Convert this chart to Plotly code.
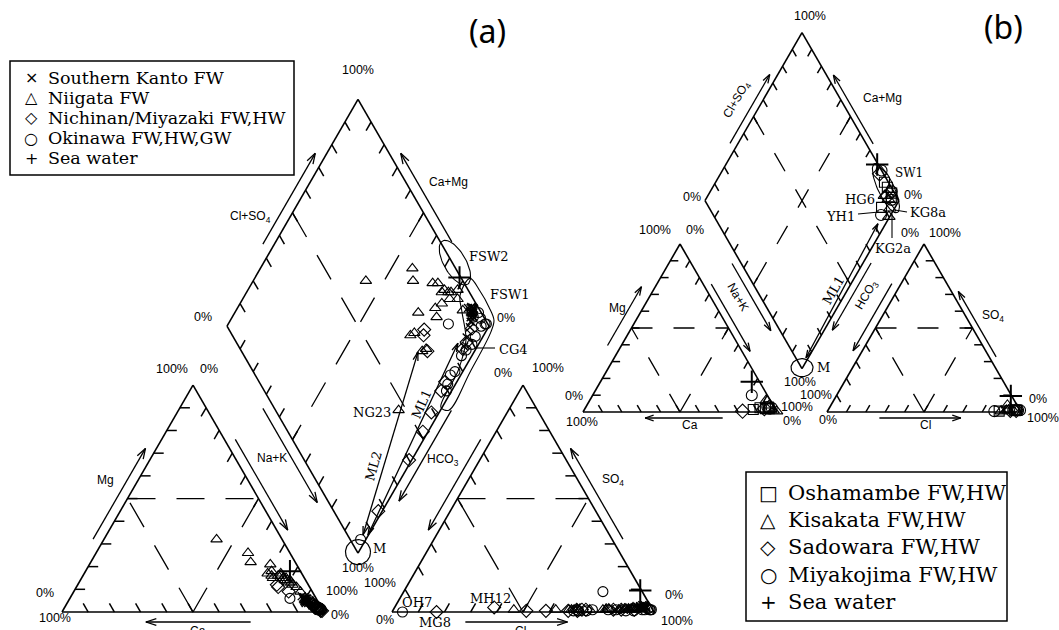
import numpy as np
import plotly.graph_objects as go

# ---------------- sample chemistry (meq %) ----------------
# Panel (a)
KANTO_MG = [5, 6, 4, 5, 6, 4.5, 5.5, 3, 3, 7, 5, 4, 5.5, 4.5, 6.5, 5, 4, 6]
KANTO_NAK = [90, 89, 91, 91, 90, 90.5, 89.5, 94, 95, 88, 92, 93, 90, 91.5, 89, 90.5, 92, 90.5]
KANTO_SO4 = [2, 2, 2, 3, 3, 2, 1.5, 1, 1, 2.5, 2, 1.5, 2.5, 2, 3, 1.5, 2.5, 2]
KANTO_CL = [94, 95, 93, 94, 95, 96, 94.5, 88, 85, 93.5, 92, 91, 95.5, 94, 94.5, 95, 93.5, 96]

NIIGATA_MG = [32, 26, 22, 21, 17, 16, 15, 14, 13, 11, 18, 16, 15, 13, 15, 14, 12, 9, 16, 14, 17, 15]
NIIGATA_NAK = [43, 58, 61, 69, 70, 72, 73, 80, 81, 84, 71, 74.5, 77, 80, 77, 79, 82, 86.5, 75.5, 78, 75, 78]
NIIGATA_SO4 = [1, 1.5, 1, 1, 1, 1, 1, 1, 1, 1, 1.5, 1.5, 1.5, 1.5, 1, 1, 1.5, 1, 1, 1, 1.5, 2]
NIIGATA_CL = [62, 82, 80, 87, 75, 67, 69, 68, 70, 46, 88.5, 88, 90.5, 94.5, 86, 90, 92.5, 92.5, 82.5, 81, 89.5, 91]

NICHINAN_MG = [0.5, 0.5, 1, 1.5, 2, 2, 2.5, 3, 12, 11, 9, 3]
NICHINAN_NAK = [98.5, 99, 98, 97, 96, 95.5, 95, 95, 76, 77, 82, 94]
NICHINAN_SO4 = [0, 2, 0.5, 0.5, 0.5, 0.5, 1, 1, 1, 1, 1, 1]
NICHINAN_CL = [17, 38, 51, 58.5, 67, 70.5, 84, 87, 73.5, 72, 70, 92]

OKINAWA_MG = [1, 1, 1.5, 2, 2, 2.5, 2, 6, 2, 1.5, 3, 4, 5, 1, 1.5, 1]
OKINAWA_NAK = [98, 98, 97, 96, 97, 96, 96.5, 84, 97, 98, 95, 93, 92, 97, 97.5, 98.5]
OKINAWA_SO4 = [0, 0.5, 0.5, 0.5, 1, 1, 1, 9, 1, 1, 1.5, 1, 1, 0.5, 0.5, 1]
OKINAWA_CL = [4, 69, 71, 74, 76, 82, 85, 76, 96, 98, 97, 98, 95, 92, 89, 98.5]

# Panel (b)
OSHAMAMBE_MG = [1.5, 2.5, 2, 2, 3]
OSHAMAMBE_NAK = [87, 90, 95, 93, 94]
OSHAMAMBE_SO4 = [1, 1, 1, 0.5, 1]
OSHAMAMBE_CL = [97, 97, 96, 88.5, 97.5]

KISAKATA_MG = [1, 0.5, 7, 4]
KISAKATA_NAK = [97.5, 99.5, 91, 94]
KISAKATA_SO4 = [1, 0.5, 1, 4]
KISAKATA_CL = [92, 89.5, 93, 91]

SADOWARA_MG = [0.5, 2]
SADOWARA_NAK = [82, 92.5]
SADOWARA_SO4 = [1, 1]
SADOWARA_CL = [97, 94]

MIYAKO_MG = [2, 3, 10, 2.5]
MIYAKO_NAK = [95, 93.5, 82, 96]
MIYAKO_SO4 = [0.5, 1, 1, 1]
MIYAKO_CL = [86, 98, 99, 95.5]

# Sea water (both panels)
SEA_MG, SEA_NAK, SEA_SO4, SEA_CL = [18], [78], [9.5], [90]

# Legend entries: key glyph and name
LEGEND_A = [('×', 'Southern Kanto FW'), ('△', 'Niigata FW'), ('◇', 'Nichinan/Miyazaki FW,HW'),
            ('○', 'Okinawa FW,HW,GW'), ('+', 'Sea water')]
LEGEND_B = [('□', 'Oshamambe FW,HW'), ('△', 'Kisakata FW,HW'), ('◇', 'Sadowara FW,HW'),
            ('○', 'Miyakojima FW,HW'), ('+', 'Sea water')]

# Scale tick positions along every edge (percent)
TICK_PCT = [10, 20, 30, 40, 50, 60, 70, 80, 90]

# Mixing lines and envelopes, diamond coordinates (Ca+Mg %, Cl+SO4 %)
ML1_A = ([0.2, 8.1], [7.8, 84.4])
ML2_A = ([2.1, 21.4], [5.9, 67.2])
ML1_B = ([1.2, 4.0], [5.3, 82.3])
FSW1_C = [17.8, 11.2, 4.2, -0.6, -2.0, -2.9, -3.2, 0.5, 2.0, 5.7, 13.4, 17.9]
FSW1_A = [103.3, 104.3, 104.2, 103.2, 99.4, 82.6, 66.2, 63.8, 78.5, 88.1, 92.8, 95.8]
FSW2_CENTER = (27, 101)
SW1_CENTER = (10.5, 97)

W, H = 1059, 630
R3 = float(np.sqrt(3) / 2)
SANS = "Liberation Sans"
SERIF = "DejaVu Serif"


class Piper:
    """Cation triangle, anion triangle and central diamond laid out on a pixel grid."""

    def __init__(self, x0, y0, side, gap):
        s = side
        self.s, self.x0, self.y0 = s, x0, y0
        P = lambda x, y: np.array([x, y], float)
        v = {}
        v['cBL'], v['cBR'], v['cAP'] = P(x0, y0), P(x0 + s, y0), P(x0 + s / 2, y0 - s * R3)
        self.ax = x0 + s + gap
        ax = self.ax
        v['aBL'], v['aBR'], v['aAP'] = P(ax, y0), P(ax + s, y0), P(ax + s / 2, y0 - s * R3)
        B = P(x0 + s + gap / 2, y0 - gap * R3)
        v['dB'] = B
        v['dR'] = B + P(s / 2, -s * R3)
        v['dT'] = B + P(0, -2 * s * R3)
        v['dL'] = B + P(-s / 2, -s * R3)
        self.v = v
        self.cent = {'c': (v['cBL'] + v['cBR'] + v['cAP']) / 3,
                     'a': (v['aBL'] + v['aBR'] + v['aAP']) / 3,
                     'd': (v['dB'] + v['dT']) / 2}

    def cation(self, mg, nak):
        mg = np.asarray(mg, float) / 100
        nak = np.asarray(nak, float) / 100
        return self.x0 + self.s * (nak + mg / 2), self.y0 - self.s * R3 * mg

    def anion(self, so4, cl):
        so4 = np.asarray(so4, float) / 100
        cl = np.asarray(cl, float) / 100
        return self.ax + self.s * (cl + so4 / 2), self.y0 - self.s * R3 * so4

    def diamond(self, camg, clso4):
        c = np.asarray(camg, float) / 100
        a = np.asarray(clso4, float) / 100
        B = self.v['dB']
        return B[0] + self.s / 2 * (a - c), B[1] - self.s * R3 * (a + c)

    def project(self, mg, nak, so4, cl):
        x1, y1 = self.cation(mg, nak)
        x2, y2 = self.anion(so4, cl)
        x3, y3 = self.diamond(100 - np.asarray(nak, float),
                              np.asarray(so4, float) + np.asarray(cl, float))
        return np.concatenate([x1, x2, x3]), np.concatenate([y1, y2, y3])


PA = Piper(62, 612, 262, 68)
PB = Piper(583, 412, 194, 50)

# edge (from, to) and inward direction of the scale ticks on it
TICK_DIRS = [('cBL', 'cAP', 1.0, 0.0), ('cAP', 'cBR', -0.5, R3), ('cBL', 'cBR', -0.5, -R3),
             ('aBL', 'aAP', 0.5, R3), ('aBR', 'aAP', -1.0, 0.0), ('aBL', 'aBR', 0.5, -R3),
             ('dL', 'dT', 0.5, R3), ('dR', 'dT', -0.5, R3), ('dL', 'dB', 0.5, -R3),
             ('dB', 'dR', -0.5, -R3)]


def frame_segs(p):
    v = p.v
    segs = []
    for loop in (['cBL', 'cBR', 'cAP'], ['aBL', 'aBR', 'aAP'], ['dB', 'dR', 'dT', 'dL']):
        for i in range(len(loop)):
            segs.append((v[loop[i]], v[loop[(i + 1) % len(loop)]]))
    return segs


def tick_segs(p, length):
    out = []
    for ka, kb, dx, dy in TICK_DIRS:
        x1, y1 = p.v[ka]
        x2, y2 = p.v[kb]
        for pct in TICK_PCT:
            f = pct / 100.0
            ex = x1 + f * (x2 - x1)
            ey = y1 + f * (y2 - y1)
            out.append((np.array([ex, ey]), np.array([ex + length * dx, ey + length * dy])))
    return out


def guide_segs(p):
    v = p.v
    m = lambda a, b: (v[a] + v[b]) / 2
    segs = []
    for t in ('c', 'a'):
        BL, BR, AP = t + 'BL', t + 'BR', t + 'AP'
        segs += [(m(BL, AP), m(AP, BR)), (m(BL, BR), m(BL, AP)), (m(BL, BR), m(AP, BR))]
    segs += [(m('dL', 'dT'), m('dB', 'dR')), (m('dR', 'dT'), m('dL', 'dB'))]
    return segs


def arrow_segs(A, B, head, both=False, ang=18):
    A, B = np.asarray(A, float), np.asarray(B, float)
    segs = [(A, B)]
    ends = [(B, A)] + ([(A, B)] if both else [])
    for tip, tail in ends:
        u = (tail - tip) / np.linalg.norm(tail - tip)
        for sg in (1, -1):
            th = np.radians(ang * sg)
            R = np.array([[np.cos(th), -np.sin(th)], [np.sin(th), np.cos(th)]])
            segs.append((tip, tip + head * (R @ u)))
    return segs


def edge_arrow(p, a, b, t0, t1, off, head):
    P, Q = p.v[a], p.v[b]
    d = Q - P
    u = d / np.linalg.norm(d)
    n = np.array([-u[1], u[0]])
    if np.dot(n, (P + Q) / 2 - p.cent[a[0]]) < 0:
        n = -n
    return arrow_segs(P + t0 * d + off * n, P + t1 * d + off * n, head)


def lines_trace(segs, width, dash=None):
    xs, ys = [], []
    for p, q in segs:
        xs += [float(p[0]), float(q[0]), None]
        ys += [float(p[1]), float(q[1]), None]
    return go.Scatter(x=xs, y=ys, mode='lines', hoverinfo='skip', showlegend=False,
                      line=dict(color='black', width=width, dash=dash))


def ellipse(cx, cy, ra, rb, ang_deg, n=80):
    t = np.linspace(0, 2 * np.pi, n)
    a = np.radians(ang_deg)
    return (cx + ra * np.cos(t) * np.cos(a) - rb * np.sin(t) * np.sin(a),
            cy + ra * np.cos(t) * np.sin(a) + rb * np.sin(t) * np.cos(a))


fig = go.Figure()
shapes = []

# ---------- diagram frames and guide lines ----------
for p, dash in ((PA, '28px,21px'), (PB, '21px,21px')):
    fig.add_trace(lines_trace(frame_segs(p), 1.6))
    fig.add_trace(lines_trace(guide_segs(p), 1.3, dash))

# ---------- scale ticks ----------
fig.add_trace(lines_trace(tick_segs(PA, 10) + tick_segs(PB, 8), 1.5))

# ---------- axis arrows ----------
ARROWS_A = [('cBL', 'cAP', .30, .70, 9.5), ('cAP', 'cBR', .26, .66, 9.5), ('dL', 'dB', .34, .755, 10),
            ('cBL', 'cBR', .72, .32, 10), ('dL', 'dT', .34, .74, 10), ('dR', 'dT', .35, .74, 10),
            ('dB', 'dR', .65, .25, 9.5), ('aBL', 'aAP', .74, .34, 9.5), ('aBR', 'aAP', .30, .70, 9.5),
            ('aBL', 'aBR', .28, .67, 10)]
ARROWS_B = [('cBL', 'cAP', .36, .71, 12), ('cAP', 'cBR', .26, .66, 7), ('dL', 'dB', .35, .75, 8),
            ('cBL', 'cBR', .72, .32, 6), ('dL', 'dT', .32, .73, 7), ('dR', 'dT', .32, .73, 6),
            ('dB', 'dR', .65, .25, 7), ('aBL', 'aAP', .74, .34, 8), ('aBR', 'aAP', .31, .70, 6),
            ('aBL', 'aBR', .27, .69, 6)]
arr = []
for spec in ARROWS_A:
    arr += edge_arrow(PA, *spec, head=11)
for spec in ARROWS_B:
    arr += edge_arrow(PB, *spec, head=9)

# mixing lines
for p, ml, head in ((PA, ML1_A, 9), (PA, ML2_A, 9), (PB, ML1_B, 8)):
    x, y = p.diamond(*ml)
    arr += arrow_segs((x[0], y[0]), (x[1], y[1]), head, both=True, ang=16)
fig.add_trace(lines_trace(arr, 1.3))

# leader lines for sample labels
LEADERS = [((475, 348), (495, 348)), ((858, 214), (879, 212)), ((895, 210), (907, 212)),
           ((892, 214), (892, 238))]
fig.add_trace(lines_trace([(np.array(a), np.array(b)) for a, b in LEADERS], 1.1))

# envelopes and M circles
ex, ey = PA.diamond(FSW1_C + FSW1_C[:1], FSW1_A + FSW1_A[:1])
fig.add_trace(go.Scatter(x=ex, y=ey, mode='lines', line=dict(color='black', width=1.1, shape='spline'),
                         hoverinfo='skip', showlegend=False))
for p, cen, ra, rb, ang in ((PA, FSW2_CENTER, 25, 11, 60), (PB, SW1_CENTER, 27, 8, 65)):
    cx, cy = p.diamond(cen[0], cen[1])
    x, y = ellipse(float(cx), float(cy), ra, rb, ang)
    fig.add_trace(go.Scatter(x=x, y=y, mode='lines', line=dict(color='black', width=1.1),
                             hoverinfo='skip', showlegend=False))
for p, ra, rb in ((PA, 12.5, 12.5), (PB, 11, 9)):
    B = p.v['dB']
    x, y = ellipse(B[0], B[1] - 1, ra, rb, 0)
    fig.add_trace(go.Scatter(x=x, y=y, mode='lines', line=dict(color='black', width=1.2),
                             hoverinfo='skip', showlegend=False))

# ---------- samples ----------
GROUPS = [
    (PA, 'Southern Kanto FW', KANTO_MG, KANTO_NAK, KANTO_SO4, KANTO_CL, 'x-thin-open', 8, 1.4),
    (PA, 'Niigata FW', NIIGATA_MG, NIIGATA_NAK, NIIGATA_SO4, NIIGATA_CL, 'triangle-up-open', 10, 1.1),
    (PA, 'Nichinan/Miyazaki FW,HW', NICHINAN_MG, NICHINAN_NAK, NICHINAN_SO4, NICHINAN_CL, 'diamond-open', 10, 1.1),
    (PA, 'Okinawa FW,HW,GW', OKINAWA_MG, OKINAWA_NAK, OKINAWA_SO4, OKINAWA_CL, 'circle-open', 10, 1.1),
    (PA, 'Sea water', SEA_MG, SEA_NAK, SEA_SO4, SEA_CL, 'cross-thin-open', 16, 2),
    (PB, 'Oshamambe FW,HW', OSHAMAMBE_MG, OSHAMAMBE_NAK, OSHAMAMBE_SO4, OSHAMAMBE_CL, 'square-open', 10, 1.1),
    (PB, 'Kisakata FW,HW', KISAKATA_MG, KISAKATA_NAK, KISAKATA_SO4, KISAKATA_CL, 'triangle-up-open', 11, 1.1),
    (PB, 'Sadowara FW,HW', SADOWARA_MG, SADOWARA_NAK, SADOWARA_SO4, SADOWARA_CL, 'diamond-open', 11, 1.1),
    (PB, 'Miyakojima FW,HW', MIYAKO_MG, MIYAKO_NAK, MIYAKO_SO4, MIYAKO_CL, 'circle-open', 11, 1.1),
    (PB, 'Sea water', SEA_MG, SEA_NAK, SEA_SO4, SEA_CL, 'cross-thin-open', 16, 2),
]
for p, name, mg, nak, so4, cl, sym, size, lw in GROUPS:
    x, y = p.project(mg, nak, so4, cl)
    fig.add_trace(go.Scatter(x=x, y=y, mode='markers', name=name, showlegend=False,
                             marker=dict(symbol=sym, size=size, color='black',
                                         line=dict(color='black', width=lw))))

# ---------- text ----------
ann = []


def txt(x, y, t, size=12, family=SANS, xa='center', ya='middle', angle=0):
    ann.append(dict(x=x, y=y, text=t, showarrow=False, xref='x', yref='y', xanchor=xa, yanchor=ya,
                    textangle=angle, font=dict(family=family, size=size, color='black')))


# legends (boxed key glyph + name)
for entries, box, sym_x, txt_x, y0, dy, fs, ss in (
        (LEGEND_A, (10, 61, 294, 175), 31, 46, 77.5, 20.2, 17.5, 16),
        (LEGEND_B, (746, 472, 1007, 621), 768, 786, 493, 27.2, 21, 20)):
    shapes.append(dict(type='rect', xref='x', yref='y', x0=box[0], y0=box[1], x1=box[2], y1=box[3],
                       line=dict(color='black', width=1.5), fillcolor='rgba(0,0,0,0)'))
    for i, (glyph, name) in enumerate(entries):
        txt(sym_x, y0 + i * dy, glyph, ss, "DejaVu Sans")
        txt(txt_x, y0 + i * dy, name, fs, SERIF, xa='left')

# panel titles
txt(487, 30, '(a)', 32, "Noto Sans")
txt(1003, 26, '(b)', 32, "Noto Sans")

# panel (a) scale labels
for x, y, t in [(358, 70, '100%'), (203, 317, '0%'), (506, 318, '0%'), (358, 568, '100%'),
                (172, 369, '100%'), (209, 369, '0%'), (45, 593, '0%'), (55, 618, '100%'),
                (342, 591, '100%'), (340, 615, '0%'), (503, 373, '0%'), (548, 368, '100%'),
                (380, 583, '100%'), (385, 620, '0%'), (674, 595, '0%'), (677, 621, '100%')]:
    txt(x, y, t, 12.5)
txt(105, 480, 'Mg', 12)
txt(272, 458, 'Na+K', 12)
txt(198, 622, 'Ca', 12, ya='top')
txt(250, 217, 'Cl+SO<sub>4</sub>', 12)
txt(448, 182, 'Ca+Mg', 12)
txt(443, 460, 'HCO<sub>3</sub>', 12)
txt(613, 480, 'SO<sub>4</sub>', 12)
txt(520, 622, 'Cl', 12, ya='top')

# panel (a) sample labels
txt(467, 256, 'FSW2', 13, SERIF, xa='left')
txt(488, 294, 'FSW1', 13, SERIF, xa='left')
txt(497, 349, 'CG4', 13, SERIF, xa='left')
txt(393, 412, 'NG23', 13, SERIF, xa='right')
txt(371, 548, 'M', 13, SERIF, xa='left')
txt(417, 602, 'OH7', 13, SERIF)
txt(435, 622, 'MG8', 13, SERIF)
txt(490, 598, 'MH12', 13, SERIF)
txt(421, 404, 'ML1', 13, SERIF, angle=-66)
txt(373, 466, 'ML2', 13, SERIF, angle=-74)

# panel (b) scale labels
for x, y, t in [(810, 16, '100%'), (692, 197, '0%'), (913, 195, '0%'), (800, 382, '100%'),
                (655, 230, '100%'), (695, 230, '0%'), (574, 396, '0%'), (582, 422, '100%'),
                (797, 407, '100%'), (792, 421, '0%'), (816, 395, '100%'), (828, 420, '0%'),
                (1038, 399, '0%'), (1043, 418, '100%'), (910, 233, '0%'), (945, 233, '100%')]:
    txt(x, y, t, 12.5)
txt(617, 308, 'Mg', 12)
txt(738, 297, 'Na+K', 12, angle=60)
txt(690, 425, 'Ca', 12)
txt(737, 100, 'Cl+SO<sub>4</sub>', 12, angle=-60)
txt(882, 98, 'Ca+Mg', 12)
txt(867, 295, 'HCO<sub>3</sub>', 12, angle=-60)
txt(993, 316, 'SO<sub>4</sub>', 12)
txt(925, 425, 'Cl', 12)

# panel (b) sample labels
txt(833, 290, 'ML1', 13, SERIF, angle=-60)
txt(893, 173, 'SW1', 12, SERIF, xa='left')
txt(877, 199, 'HG6', 13, SERIF, xa='right')
txt(857, 216, 'YH1', 13, SERIF, xa='right')
txt(908, 212, 'KG8a', 13, SERIF, xa='left')
txt(893, 248, 'KG2a', 13, SERIF)
txt(815, 367, 'M', 13, SERIF, xa='left')

fig.update_layout(
    width=W, height=H, margin=dict(l=0, r=0, t=0, b=0),
    paper_bgcolor='white', plot_bgcolor='white',
    xaxis=dict(range=[0, W], visible=False, fixedrange=True),
    yaxis=dict(range=[H, 0], visible=False, fixedrange=True),
    annotations=ann, shapes=shapes,
    showlegend=False,
)

fig.write_html("out.html")
